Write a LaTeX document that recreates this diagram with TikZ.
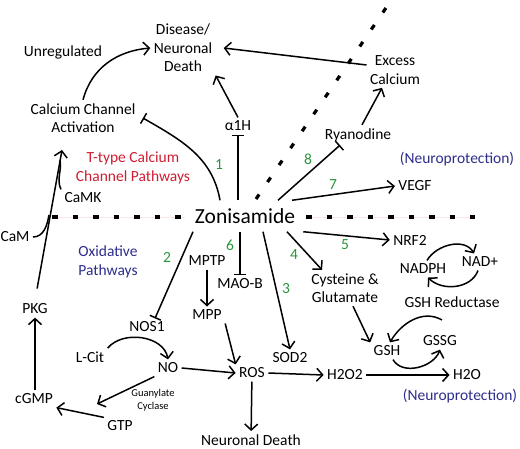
\documentclass[tikz,border=0pt]{standalone}
\usepackage{fontspec}
\setmainfont{Carlito}
\usetikzlibrary{arrows.meta}

\definecolor{numgreen}{RGB}{40,150,60}
\definecolor{pathred}{RGB}{205,30,50}
\definecolor{protblue}{RGB}{45,45,140}

\tikzset{
  act/.style={draw, line width=1.5pt, -{Straight Barb[length=6pt,width=13pt]}},
  inh/.style={draw, line width=1.5pt, -{Bar[width=12pt]}},
  plain/.style={draw, line width=1.5pt},
  membrane/.style={line width=3.2pt, dash pattern=on 5.5pt off 15pt},
  faint/.style={pink!40, line width=0.5pt},
  num/.style={text=numgreen},
}

\begin{document}
\begin{tikzpicture}[x=1pt,y=-1pt,font=\fontsize{15.5}{18.5}\selectfont]
\useasboundingbox (0,0) rectangle (520,448);

      % membranes
      \draw[faint] (50,217) -- (185,217);
      \draw[faint] (305,217) -- (475,217);
      \draw[membrane] (52,217) -- (185,217);
      \draw[membrane] (306,217) -- (475,217);
      \draw[membrane] (256,199) -- (390,2);

      \begin{scope}[every node/.style={align=center}]
        \node (zon)   at (245,216) [font=\fontsize{21.5}{26}\selectfont, inner xsep=8pt, inner ysep=8pt] {Zonisamide};
        \node (dis)   at (183,48)  {Disease/\\Neuronal\\Death};
        \node (unreg) at (63,52)   {Unregulated};
        \node (cca)   at (83,118)  {Calcium Channel\\Activation};
        \node (a1h)   at (238,126) {α1H};
        \node (exc)   at (395,70)  {Excess\\Calcium};
        \node (rya)   at (358,135) {Ryanodine};
        \node (vegf)  at (415,186) {VEGF};
        \node (camk)  at (83,198)  {CaMK};
        \node (cam)   at (15,237)  {CaM};
        \node (pkg)   at (35,309)  {PKG};
        \node (cgmp)  at (34,399)  {cGMP};
        \node (gtp)   at (120,426) {GTP};
        \node (lcit)  at (90,357)  {L-Cit};
        \node (nos)   at (147,327) {NOS1};
        \node (no)    at (168,368) {NO};
        \node (mptp)  at (207,261) {MPTP};
        \node (mpp)   at (207,315) {MPP};
        \node (maob)  at (240,284) {MAO-B};
        \node (ros)   at (252,373) {ROS};
        \node (nd)    at (251,440) {Neuronal Death};
        \node (sod)   at (290,358) {SOD2};
        \node (h2o2)  at (345,375) {H2O2};
        \node (h2o)   at (467,375) {H2O};
        \node (cys)   at (345,288) {Cysteine \&\\Glutamate};
        \node (nrf)   at (410,240) {NRF2};
        \node (nadph) at (423,269) {NADPH};
        \node (nad)   at (480,262) {NAD+};
        \node (gshr)  at (452,302) {GSH Reductase};
        \node (gsh)   at (387,351) {GSH};
        \node (gssg)  at (440,341) {GSSG};
        \node (guan)  at (153,400) [font=\fontsize{10.5}{13}\selectfont] {Guanylate\\Cyclase};
        \node (ttype) at (133,168) [text=pathred] {T-type Calcium\\Channel Pathways};
        \node (oxi)   at (108,262) [text=protblue] {Oxidative\\Pathways};
        \node (prot1) at (457,159) [text=protblue] {(Neuroprotection)};
        \node (prot2) at (460,396) [text=protblue] {(Neuroprotection)};
      \end{scope}

      \begin{scope}[every node/.style={num}]
        \node (n1) at (219,165) {1};
        \node (n2) at (167,257) {2};
        \node (n3) at (286,289) {3};
        \node (n4) at (294,255) {4};
        \node (n5) at (345,245) {5};
        \node (n6) at (230,245) {6};
        \node (n7) at (333,185) {7};
        \node (n8) at (308,159) {8};
      \end{scope}

      \coordinate (tip) at (62,150);
      \coordinate (ck)  at (60,160);
      \coordinate (cm)  at (49,215);
      \coordinate (cyc) at (97,404);

      % calcium side
      \path (cca.north) edge[act, out=75, in=185] (dis.west);
      \path (exc.170) edge[act] ([xshift=8pt]dis.east);
      \path (a1h.north) edge[act] (dis.south east);
      \path (zon.north -| a1h) edge[inh] (a1h.south);
      \path ([xshift=-25pt]zon.north) edge[inh, out=100, in=-30] ([xshift=4pt]cca.east);
      \path ([xshift=4pt]rya.north) edge[act] ([xshift=-13pt]exc.south);
      \path ([xshift=33pt]zon.north) edge[inh] ([xshift=-18pt]rya.south);
      \path ([xshift=47pt]zon.north) edge[act] (vegf.west);
      \path (pkg.north) edge[act, shorten <=12pt] (tip);
      \path (camk.north west) edge[plain, out=115, in=-80] (ck);
      \path (cam.east) edge[plain, out=0, in=-100] (cm);

      % oxidative side
      \path ([xshift=-52pt]zon.south) edge[inh] ([xshift=8pt]nos.north);
      \path (zon.south -| maob) edge[inh] (maob.north);
      \path (mptp) edge[act] (mpp);
      \path (mpp.south east) edge[act] (ros.north west);
      \path (lcit.north east) edge[act, out=50, in=100] (no.north);
      \path (no.east) edge[act] (ros.west);
      \path (no.south west) edge[act] (cyc);
      \path (gtp.north west) edge[act] (cgmp.south east);
      \path (cgmp.north -| pkg) edge[act] (pkg.south);
      \path (ros) edge[act] (nd);
      \path (ros.east) edge[act] (h2o2.west);
      \path ([xshift=18pt]zon.south) edge[act] (sod.north);

      % neuroprotection side
      \path ([xshift=42pt]zon.south) edge[act] ([xshift=-23pt]cys.north);
      \path (zon.south east) edge[act] (nrf.west);
      \path ([xshift=4pt]nadph.north) edge[act, out=60, in=120] ([xshift=-6pt]nad.north);
      \path ([xshift=-2pt]nad.south) edge[act, out=-110, in=-45] ([xshift=5pt]nadph.south);
      \path ([xshift=-10pt,yshift=-9pt]gshr.south) edge[act, out=150, in=60] ([xshift=3pt]gsh.north);
      \path ([xshift=8pt]cys.south) edge[act] (gsh.north west);
      \path ([xshift=6pt]gsh.south) edge[act, out=-60, in=-110] (gssg.south);
      \path (h2o2.east) edge[act] (h2o.west);

    \end{tikzpicture}
\end{document}
